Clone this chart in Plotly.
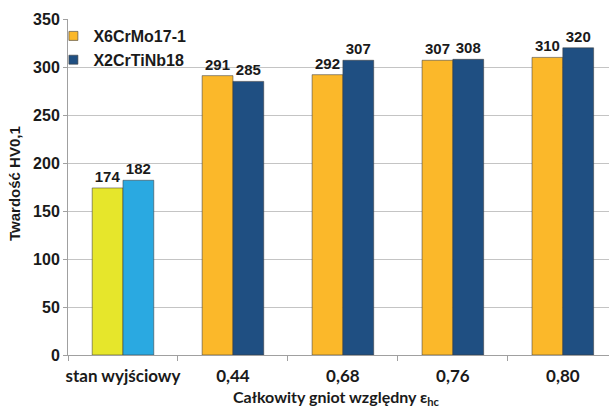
import plotly.graph_objects as go

categories = ["stan wyjściowy", "0,44", "0,68", "0,76", "0,80"]
x6crmo = [174, 291, 292, 307, 310]
x2crtinb = [182, 285, 307, 308, 320]
series_names = ["X6CrMo17-1", "X2CrTiNb18"]
y_ticks = [0, 50, 100, 150, 200, 250, 300, 350]

# initial state gets its own lighter colours, deformed states the main ones
colors_a = ["#e6e62b"] + ["#fbb82a"] * 4
colors_b = ["#2aa9e1"] + ["#1f4f82"] * 4
legend_colors = ["#fbb82a", "#1f4f82"]

label_font = dict(family="Arial", size=15, color="#1a1a1a", weight="bold")

fig = go.Figure()
for vals, cols in [(x6crmo, colors_a), (x2crtinb, colors_b)]:
    fig.add_trace(go.Bar(
        x=categories, y=vals,
        marker=dict(color=cols, line=dict(color="rgba(60,60,60,0.55)", width=1)),
        text=[str(v) for v in vals], textposition="outside",
        textfont=label_font, cliponaxis=False, showlegend=False,
    ))

for name, col in zip(series_names, legend_colors):
    fig.add_trace(go.Scatter(
        x=[None], y=[None], mode="markers", name=name,
        marker=dict(symbol="square", size=9, color=col,
                    line=dict(color="rgba(60,60,60,0.6)", width=1)),
    ))

fig.update_layout(
    width=609, height=408,
    margin=dict(l=68, r=0, t=19, b=53),
    paper_bgcolor="white", plot_bgcolor="white",
    barmode="group", bargap=0.44, bargroupgap=0,
    legend=dict(x=-0.027, y=1.0, xanchor="left", yanchor="top",
                font=dict(family="Arial", size=16, color="#1a1a1a", weight="bold"),
                bgcolor="rgba(0,0,0,0)", itemwidth=30, tracegroupgap=0),
    xaxis=dict(
        type="category", range=[-0.5, 4.42],
        showline=True, linecolor="#a0a0a0", linewidth=1,
        ticks="outside", tickson="boundaries", ticklen=5, tickcolor="#a0a0a0",
        tickangle=0, ticklabelstandoff=6,
        tickfont=dict(family="Lato", size=17, color="#1a1a1a", weight="bold"),
    ),
    yaxis=dict(
        range=[0, 350], tickvals=y_ticks,
        showline=True, linecolor="#a0a0a0", linewidth=1,
        ticks="outside", ticklen=4, tickcolor="#a0a0a0",
        showgrid=True, gridcolor="#c4c4c4", gridwidth=1,
        tickfont=dict(family="Arial", size=16, color="#1a1a1a", weight="bold"),
        zeroline=False,
    ),
    annotations=[
        dict(text="Twardość HV0,1", xref="paper", yref="paper",
             x=-0.098, y=0.512, xanchor="center", yanchor="middle",
             textangle=-90, showarrow=False,
             font=dict(family="Arial", size=15, color="#1a1a1a", weight="bold")),
        dict(text="Całkowity gniot względny ε<sub>hc</sub>",
             xref="paper", yref="paper", x=0.497, y=-0.125,
             xanchor="center", yanchor="middle", showarrow=False,
             font=dict(family="Lato", size=16, color="#1a1a1a", weight="bold")),
    ],
)

fig.write_html("out.html")
